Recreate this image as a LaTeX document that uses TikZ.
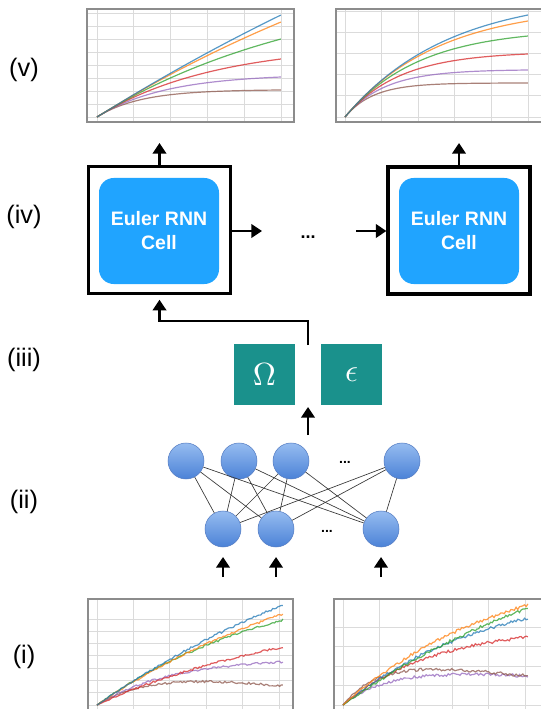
\documentclass[tikz,border=0pt]{standalone}
\usepackage[no-math]{fontspec}
\setmainfont{Liberation Sans}
\usepackage{amsmath}
\usepackage{amssymb}
\usepackage{graphicx}
\usetikzlibrary{arrows.meta,positioning}

\definecolor{tabblue}{HTML}{1F77B4}
\definecolor{taborange}{HTML}{FF7F0E}
\definecolor{tabgreen}{HTML}{2CA02C}
\definecolor{tabred}{HTML}{D62728}
\definecolor{tabpurple}{HTML}{9467BD}
\definecolor{tabbrown}{HTML}{8C564B}
\definecolor{cellblue}{RGB}{32,164,255}
\definecolor{paramteal}{RGB}{26,145,140}

\begin{document}
\begin{tikzpicture}[x=0.75pt,y=0.75pt,yscale=-1,
  flow/.style={line width=2pt,-{Triangle[width=10pt,length=8pt]}},
  cellframe/.style={draw,line width=2.5pt,minimum width=106.3pt,minimum height=95pt},
  cellcore/.style={fill=cellblue,rounded corners=11pt,minimum width=90pt,minimum height=79.5pt,text=white,align=center,font=\fontsize{14.6}{18}\selectfont\bfseries},
  param/.style={fill=paramteal,minimum size=45.75pt,inner sep=0pt,text=white},
  neuron/.style={circle,minimum size=27pt,inner sep=0pt,draw={rgb,255:red,85;green,125;blue,195},line width=0.4pt,top color={rgb,255:red,150;green,188;blue,240},bottom color={rgb,255:red,75;green,130;blue,215}},
  wire/.style={line width=0.5pt,draw={rgb,255:red,55;green,55;blue,55}},
  tag/.style={font=\fontsize{19}{22}\selectfont},
  grid/.style={line width=0.6pt,draw=black!14},
  frame/.style={line width=0.9pt,draw=black!45},
  curve/.style={line width=0.9pt,opacity=0.75}]
\useasboundingbox (0,0) rectangle (540,709);
\pgfmathsetseed{11}

% Level labels
\node[tag] (lv) at (24,70) {(v)};
\node[tag] (liv) at (24,217) {(iv)};
\node[tag] (liii) at (24,360) {(iii)};
\node[tag] (lii) at (24,502) {(ii)};
\node[tag] (li) at (24,657) {(i)};

%Plot: top left
\foreach \gx in {0,...,5} \draw[grid] ({97+36.8*\gx},9) -- ({97+36.8*\gx},122);
\foreach \gy in {0,...,8} \draw[grid] (87,{117-13*\gy}) -- (294,{117-13*\gy});
\draw[frame] (87,9) rectangle (294,122);
\foreach \col/\hh/\tc in {tabbrown/27/0.238,tabpurple/40/0.375,tabred/58/0.635,tabgreen/78/1.2,taborange/95/2.5,tabblue/102/4}
  \draw[curve,\col] plot[domain=0:1,samples=60] ({97+184*\x},{117-\hh*(1-exp(-\x/\tc))/(1-exp(-1/\tc))});

%Plot: top right
\foreach \gx in {0,...,5} \draw[grid] ({345+36.6*\gx},9) -- ({345+36.6*\gx},122);
\foreach \gy in {0,...,5} \draw[grid] (336,{117-21.2*\gy}) -- (542,{117-21.2*\gy});
\draw[frame] (336,9) rectangle (542,122);
\foreach \col/\hh/\tc in {tabbrown/34/0.155,tabpurple/47/0.217,tabred/63/0.3,tabgreen/81/0.405,taborange/96/0.51,tabblue/102/0.56}
  \draw[curve,\col] plot[domain=0:1,samples=60] ({345+183*\x},{117-\hh*(1-exp(-\x/\tc))/(1-exp(-1/\tc))});

%Plot: bottom left
\foreach \gx in {0,...,5} \draw[grid] ({97+36.4*\gx},599) -- ({97+36.4*\gx},712);
\foreach \gy in {0,...,7} \draw[grid] (88,{705-12.3*\gy}) -- (293,{705-12.3*\gy});
\draw[frame] (88,712) -- (88,599) -- (293,599) -- (293,712);
\foreach \col/\hh/\tc/\dd in {tabbrown/40/0.3/21,tabpurple/43/0.4/0,tabred/58/1.2/0,tabgreen/85/1.0/0,taborange/91/1.4/0,tabblue/100/1.8/0}
  \draw[curve,\col] plot[domain=0:1,samples=110] ({97+186*\x},{705-\hh*(1-exp(-\x/\tc))/(1-exp(-1/\tc))+\dd*\x+1.1*rand*(1-exp(-10*\x))});

%Plot: bottom right
\foreach \gx in {0,...,5} \draw[grid] ({343+36.4*\gx},599) -- ({343+36.4*\gx},712);
\foreach \gy in {0,...,4} \draw[grid] (334,{705-19.5*\gy}) -- (542,{705-19.5*\gy});
\draw[frame] (334,712) -- (334,599) -- (542,599);
\foreach \col/\hh/\tc/\dd in {tabpurple/40/0.25/11,tabbrown/50/0.2/21,tabred/68/0.5/0,tabblue/87/0.8/0,tabgreen/97/1.5/0,taborange/100/0.9/0}
  \draw[curve,\col] plot[domain=0:1,samples=110] ({343+185*\x},{705-\hh*(1-exp(-\x/\tc))/(1-exp(-1/\tc))+\dd*\x+1.5*rand*(1-exp(-10*\x))});

%Euler RNN cells
\node[cellframe] (cellA) at (159.5,230) {};
\node[cellcore] (coreA) at (159,231) {Euler RNN\\Cell};
\node[cellframe] (cellB) at (459,230.5) {};
\node[cellcore] (coreB) at (459,231) {Euler RNN\\Cell};
\node[font=\fontsize{13.5}{16}\selectfont\bfseries,anchor=base] (chain) at (308,238) {...};
\coordinate (outA) at (159.5,143);
\coordinate (outB) at (459,143);
\coordinate (stepA) at (262,231);
\coordinate (stepB) at (356,231);
\draw[flow] (cellA.north) -- (outA);
\draw[flow] (cellB.north) -- (outB);
\draw[flow] (cellA.east |- stepA) -- (stepA);
\draw[flow] (stepB) -- (cellB.west |- stepB);

%Parameters
\node[param] (omega) at (264.5,374.5) {\scalebox{2.4}{$\Omega$}};
\node[param] (eps) at (351.5,374.5) {\scalebox{2.4}{$\epsilon$}};
\coordinate (gap) at (308,345);
\draw[flow,shorten >=3.5pt] (gap) -- (308,321) -| (cellA.south);

%Network
\node[neuron] (top1) at (186,461) {};
\node[neuron] (top2) at (239,461) {};
\node[neuron] (top3) at (291,461) {};
\node[neuron] (top4) at (402,461) {};
\node[neuron] (bot1) at (223,529) {};
\node[neuron] (bot2) at (276,529) {};
\node[neuron] (bot3) at (381,529) {};
\node[font=\fontsize{10.5}{12}\selectfont\bfseries] (topdots) at (345,462) {...};
\node[font=\fontsize{10.5}{12}\selectfont\bfseries] (botdots) at (327,531) {...};
\foreach \i in {1,...,4}
  \foreach \j in {1,2,3}
    \draw[wire] (top\i) -- (bot\j);
\coordinate (netout) at (308,435);
\coordinate (netin) at (308,407);
\draw[flow] (netout) -- (netin);
\foreach \j in {1,2,3}
  \draw[flow] (bot\j |- 0,577) -- (bot\j |- 0,557);

\end{tikzpicture}
\end{document}
